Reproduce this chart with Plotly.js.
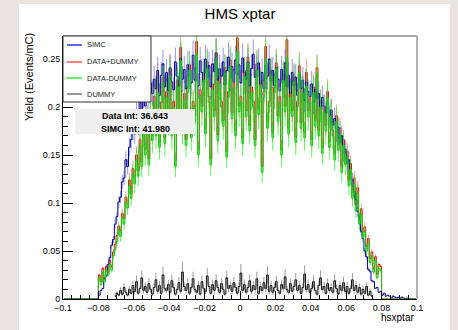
<!DOCTYPE html>
<html>
<head>
<meta charset="utf-8">
<script src="https://cdn.plot.ly/plotly-3.0.1.min.js"></script>
<style>
  html, body { margin: 0; padding: 0; background: #e9e3e1; }
  #chart { width: 458px; height: 330px; }
</style>
</head>
<body>
<div id="chart"></div>
<script>
// Histogram binning of hsxptar: 200 bins of width 0.001 over [-0.1, 0.1]
const binLow = -0.1;
const binWidth = 0.001;
const nBins = 200;

// Legend labels
const seriesNames = ["SIMC", "DATA+DUMMY", "DATA-DUMMY", "DUMMY"];

// SIMC yield, bins from -0.0795 to 0.0945
const simcStart = -0.0795;
const simcYield = [
  0.004, 0.009, 0.011, 0.022, 0.024, 0.036, 0.043, 0.056, 0.062, 0.078,
  0.086, 0.101, 0.106, 0.122, 0.126, 0.145, 0.138, 0.158, 0.166, 0.176,
  0.172, 0.193, 0.181, 0.205, 0.196, 0.212, 0.201, 0.219, 0.207, 0.225,
  0.214, 0.229, 0.219, 0.238, 0.212, 0.233, 0.245, 0.221, 0.236, 0.217,
  0.241, 0.226, 0.218, 0.247, 0.232, 0.222, 0.251, 0.229, 0.239, 0.219,
  0.244, 0.233, 0.225, 0.254, 0.228, 0.241, 0.222, 0.248, 0.236, 0.226,
  0.250, 0.231, 0.243, 0.221, 0.245, 0.237, 0.256, 0.228, 0.240, 0.232,
  0.247, 0.223, 0.238, 0.252, 0.230, 0.242, 0.226, 0.249, 0.234, 0.244,
  0.225, 0.251, 0.236, 0.229, 0.247, 0.222, 0.240, 0.255, 0.231, 0.238,
  0.246, 0.224, 0.236, 0.219, 0.243, 0.232, 0.250, 0.227, 0.238, 0.222,
  0.241, 0.229, 0.217, 0.239, 0.226, 0.246, 0.221, 0.233, 0.214, 0.236,
  0.222, 0.231, 0.212, 0.234, 0.219, 0.228, 0.207, 0.226, 0.216, 0.211,
  0.224, 0.205, 0.218, 0.209, 0.214, 0.198, 0.210, 0.201, 0.194, 0.206,
  0.190, 0.197, 0.181, 0.188, 0.174, 0.179, 0.163, 0.170, 0.152, 0.156,
  0.141, 0.145, 0.126, 0.124, 0.112, 0.104, 0.091, 0.083, 0.070, 0.063,
  0.050, 0.044, 0.031, 0.029, 0.019, 0.018, 0.011, 0.012, 0.007, 0.008,
  0.004, 0.006, 0.003, 0.004, 0.003, 0.001, 0.003, 0.002, 0.001, 0.002,
  0.001, 0.002, 0.001, 0.000, 0.001
];

// Data yield before dummy subtraction, bins from -0.0795 to 0.0795
const dataPlusStart = -0.0795;
const dataPlusDummy = [
  0.025, 0.018, 0.032, 0.021, 0.034, 0.028, 0.040, 0.034, 0.049, 0.057,
  0.066, 0.076, 0.071, 0.089, 0.084, 0.106, 0.099, 0.124, 0.110, 0.136,
  0.127, 0.150, 0.134, 0.166, 0.143, 0.178, 0.156, 0.191, 0.146, 0.197,
  0.171, 0.211, 0.176, 0.232, 0.163, 0.205, 0.231, 0.168, 0.216, 0.191,
  0.240, 0.176, 0.206, 0.144, 0.228, 0.196, 0.262, 0.181, 0.214, 0.166,
  0.221, 0.244, 0.174, 0.206, 0.191, 0.268, 0.156, 0.218, 0.201, 0.236,
  0.178, 0.247, 0.211, 0.146, 0.224, 0.196, 0.257, 0.171, 0.232, 0.206,
  0.186, 0.241, 0.154, 0.216, 0.249, 0.194, 0.226, 0.176, 0.272, 0.201,
  0.211, 0.168, 0.238, 0.196, 0.252, 0.181, 0.221, 0.206, 0.166, 0.245,
  0.198, 0.228, 0.138, 0.216, 0.263, 0.184, 0.206, 0.238, 0.174, 0.221,
  0.246, 0.191, 0.211, 0.156, 0.234, 0.201, 0.270, 0.178, 0.216, 0.196,
  0.232, 0.169, 0.206, 0.243, 0.184, 0.220, 0.174, 0.236, 0.196, 0.211,
  0.166, 0.221, 0.186, 0.241, 0.176, 0.206, 0.158, 0.201, 0.181, 0.216,
  0.164, 0.196, 0.176, 0.151, 0.191, 0.161, 0.178, 0.138, 0.166, 0.146,
  0.154, 0.124, 0.141, 0.111, 0.126, 0.098, 0.116, 0.084, 0.094, 0.070,
  0.075, 0.055, 0.063, 0.042, 0.049, 0.032, 0.044, 0.026, 0.036, 0.034
];

// Data yield after dummy subtraction, bins from -0.0795 to 0.0795
const dataMinusStart = -0.0795;
const dataMinusDummy = [
  0.022, 0.015, 0.028, 0.018, 0.030, 0.025, 0.036, 0.030, 0.045, 0.052,
  0.060, 0.072, 0.065, 0.085, 0.078, 0.100, 0.095, 0.118, 0.105, 0.130,
  0.120, 0.145, 0.128, 0.160, 0.138, 0.172, 0.150, 0.185, 0.140, 0.190,
  0.165, 0.205, 0.170, 0.215, 0.158, 0.198, 0.225, 0.162, 0.210, 0.185,
  0.232, 0.170, 0.200, 0.138, 0.222, 0.190, 0.248, 0.175, 0.208, 0.160,
  0.215, 0.238, 0.168, 0.200, 0.185, 0.255, 0.150, 0.212, 0.195, 0.228,
  0.172, 0.240, 0.205, 0.140, 0.218, 0.190, 0.250, 0.165, 0.225, 0.200,
  0.180, 0.235, 0.148, 0.210, 0.242, 0.188, 0.220, 0.170, 0.258, 0.195,
  0.205, 0.162, 0.232, 0.190, 0.245, 0.175, 0.215, 0.200, 0.160, 0.238,
  0.192, 0.222, 0.132, 0.210, 0.250, 0.178, 0.200, 0.232, 0.168, 0.215,
  0.240, 0.185, 0.205, 0.150, 0.228, 0.195, 0.252, 0.172, 0.210, 0.190,
  0.226, 0.163, 0.200, 0.236, 0.178, 0.214, 0.168, 0.222, 0.190, 0.205,
  0.160, 0.215, 0.180, 0.235, 0.170, 0.200, 0.152, 0.195, 0.175, 0.210,
  0.158, 0.190, 0.170, 0.145, 0.185, 0.155, 0.172, 0.132, 0.160, 0.140,
  0.148, 0.118, 0.135, 0.105, 0.120, 0.092, 0.110, 0.078, 0.088, 0.065,
  0.070, 0.050, 0.058, 0.038, 0.045, 0.028, 0.040, 0.022, 0.032, 0.030
];

// Dummy target yield, bins from -0.0705 to 0.0745
const dummyStart = -0.0705;
const dummyYield = [
  0.003, 0.006, 0.004, 0.009, 0.005, 0.012, 0.007, 0.004, 0.010, 0.006,
  0.014, 0.008, 0.018, 0.006, 0.011, 0.022, 0.009, 0.013, 0.007, 0.016,
  0.010, 0.005, 0.012, 0.020, 0.008, 0.014, 0.006, 0.025, 0.011, 0.009,
  0.015, 0.007, 0.019, 0.012, 0.005, 0.010, 0.017, 0.008, 0.028, 0.013,
  0.009, 0.016, 0.006, 0.012, 0.021, 0.010, 0.007, 0.014, 0.005, 0.018,
  0.011, 0.008, 0.024, 0.013, 0.006, 0.015, 0.009, 0.019, 0.012, 0.007,
  0.016, 0.010, 0.005, 0.022, 0.011, 0.014, 0.008, 0.017, 0.012, 0.006,
  0.013, 0.027, 0.009, 0.015, 0.007, 0.012, 0.019, 0.008, 0.014, 0.010,
  0.021, 0.006, 0.013, 0.009, 0.017, 0.011, 0.025, 0.008, 0.014, 0.007,
  0.012, 0.018, 0.009, 0.006, 0.015, 0.011, 0.023, 0.010, 0.007, 0.016,
  0.008, 0.013, 0.020, 0.009, 0.014, 0.006, 0.012, 0.026, 0.010, 0.015,
  0.007, 0.011, 0.018, 0.009, 0.005, 0.014, 0.022, 0.010, 0.013, 0.006,
  0.016, 0.009, 0.012, 0.007, 0.019, 0.011, 0.005, 0.014, 0.009, 0.017,
  0.008, 0.013, 0.006, 0.011, 0.020, 0.009, 0.014, 0.007, 0.012, 0.005,
  0.010, 0.006, 0.013, 0.004, 0.008, 0.003
];

// Integrals shown in the info box
const dataIntegral = "36.643";
const simcIntegral = "41.980";

// Axis ticks
const xTickVals = [-0.1, -0.08, -0.06, -0.04, -0.02, 0, 0.02, 0.04, 0.06, 0.08, 0.1];
const xTickText = ["\u22120.1", "\u22120.08", "\u22120.06", "\u22120.04", "\u22120.02", "0", "0.02", "0.04", "0.06", "0.08", "0.1"];
const yTickVals = [0, 0.05, 0.1, 0.15, 0.2, 0.25];
const yTickText = ["0", "0.05", "0.1", "0.15", "0.2", "0.25"];

// ---- helpers ----
const binCenters = Array.from({length: nBins}, (_, i) => binLow + binWidth * (i + 0.5));

// place a run of bin contents into the full 200-bin array (empty bins stay 0)
function fullHist(start, vals) {
  const out = new Array(nBins).fill(0);
  const first = Math.round((start - binLow) / binWidth - 0.5);
  vals.forEach((v, k) => { out[first + k] = v; });
  return out;
}
function runX(start, vals) {
  const first = Math.round((start - binLow) / binWidth - 0.5);
  return vals.map((_, k) => binCenters[first + k]);
}

// page geometry (pixels) -> paper coordinates
const M = {l: 63, r: 41, t: 36, b: 31};
const W = 458, H = 330;
const pw = W - M.l - M.r, ph = H - M.t - M.b;
const px = x => (x - M.l) / pw;
const py = y => (H - M.b - y) / ph;

const font = "Liberation Sans, Arial, Helvetica, sans-serif";

function histTrace(name, x, y, lineColor, errColor, errPct, lw) {
  return {
    type: "scatter", mode: "lines", name: name,
    x: x, y: y,
    line: {shape: "hvh", color: lineColor, width: lw},
    error_y: {type: "percent", value: errPct, color: errColor, thickness: 1, width: 0, visible: true},
    hoverinfo: "x+y", showlegend: false
  };
}

const simcTrace = histTrace(seriesNames[0], binCenters, fullHist(simcStart, simcYield), "#00008c", "rgba(80,80,230,0.6)", 6, 1);
const plusTrace = histTrace(seriesNames[1], binCenters, fullHist(dataPlusStart, dataPlusDummy), "#ee0000", "rgba(255,70,70,0.55)", 6, 1);
const minusTrace = histTrace(seriesNames[2], binCenters, fullHist(dataMinusStart, dataMinusDummy), "#11cc11", "rgba(40,240,40,0.75)", 8, 1);
const dummyTrace = histTrace(seriesNames[3], runX(dummyStart, dummyYield), dummyYield, "#111111", "rgba(90,90,90,0.6)", 35, 1);

// drawing order: DATA+DUMMY, SIMC, DATA-DUMMY, DUMMY
const traces = [plusTrace, simcTrace, minusTrace, dummyTrace];

const legendColors = ["#3333dd", "#ff5555", "#33ee33", "#777777"];
const legendRowsY = [45, 62, 78, 94];

const shapes = [
  // white canvas
  {type: "rect", xref: "paper", yref: "paper", layer: "below",
   x0: px(19), x1: px(450), y0: py(330), y1: py(4),
   fillcolor: "#ffffff", line: {width: 0}},
  // frame: top and right sides
  {type: "line", xref: "paper", yref: "paper", x0: 0, x1: 1, y0: 1, y1: 1, line: {color: "#555555", width: 1}},
  {type: "line", xref: "paper", yref: "paper", x0: 1, x1: 1, y0: 0, y1: 1, line: {color: "#999999", width: 1.5}},
  // legend box
  {type: "rect", xref: "paper", yref: "paper", x0: 0, x1: px(151), y0: py(102), y1: 1,
   fillcolor: "#ffffff", line: {color: "#333333", width: 1}},
  // info box
  {type: "rect", xref: "paper", yref: "paper", x0: px(75), x1: px(195), y0: py(134), y1: py(109),
   fillcolor: "#efefef", line: {width: 0}}
];
legendRowsY.forEach((yy, i) => {
  shapes.push({type: "line", xref: "paper", yref: "paper", x0: px(67), x1: px(82), y0: py(yy), y1: py(yy),
               line: {color: legendColors[i], width: 1.5}});
});

const annotations = [
  {text: "Yield (Events/mC)", textangle: -90, xref: "paper", yref: "paper",
   x: px(29), y: py(31), xanchor: "center", yanchor: "top", showarrow: false,
   font: {family: font, size: 11, color: "#000"}},
  {text: "hsxptar", xref: "paper", yref: "paper", x: px(416), y: py(317),
   xanchor: "right", yanchor: "middle", showarrow: false,
   font: {family: font, size: 10, color: "#000"}},
  {text: "<b>Data Int: " + dataIntegral + "</b>", xref: "paper", yref: "paper",
   x: px(135), y: py(116), xanchor: "center", yanchor: "middle", showarrow: false,
   font: {family: font, size: 9, color: "#000"}},
  {text: "<b>SIMC Int: " + simcIntegral + "</b>", xref: "paper", yref: "paper",
   x: px(135), y: py(128.5), xanchor: "center", yanchor: "middle", showarrow: false,
   font: {family: font, size: 9, color: "#000"}}
];
legendRowsY.forEach((yy, i) => {
  annotations.push({text: seriesNames[i], xref: "paper", yref: "paper", x: px(85), y: py(yy),
                    xanchor: "left", yanchor: "middle", showarrow: false,
                    font: {family: font, size: 7.5, color: "#222"}});
});

const layout = {
  width: W, height: H,
  margin: M,
  paper_bgcolor: "#e9e3e1",
  plot_bgcolor: "#ffffff",
  showlegend: false,
  title: {text: "HMS xptar", x: 0.5, xref: "paper", xanchor: "center",
          y: 1 - 14 / H, yref: "container", yanchor: "middle",
          font: {family: font, size: 15, color: "#000"}},
  xaxis: {
    range: [-0.1, 0.1], showgrid: false, zeroline: false,
    showline: true, linecolor: "#000", linewidth: 1,
    ticks: "inside", ticklen: 8, tickcolor: "#000",
    tickmode: "array", tickvals: xTickVals, ticktext: xTickText,
    minor: {dtick: 0.005, tick0: 0, ticks: "inside", ticklen: 4, tickcolor: "#000", showgrid: false},
    tickfont: {family: font, size: 9, color: "#000"}
  },
  yaxis: {
    range: [0, (H - M.b - M.t) / 960], showgrid: false, zeroline: false,
    showline: true, linecolor: "#000", linewidth: 1,
    ticks: "inside", ticklen: 10, tickcolor: "#000",
    tickmode: "array", tickvals: yTickVals, ticktext: yTickText,
    minor: {dtick: 0.01, tick0: 0, ticks: "inside", ticklen: 5, tickcolor: "#000", showgrid: false},
    tickfont: {family: font, size: 9, color: "#000"}
  },
  shapes: shapes,
  annotations: annotations
};

Plotly.newPlot("chart", traces, layout, {displayModeBar: false, staticPlot: true});
</script>
</body>
</html>
